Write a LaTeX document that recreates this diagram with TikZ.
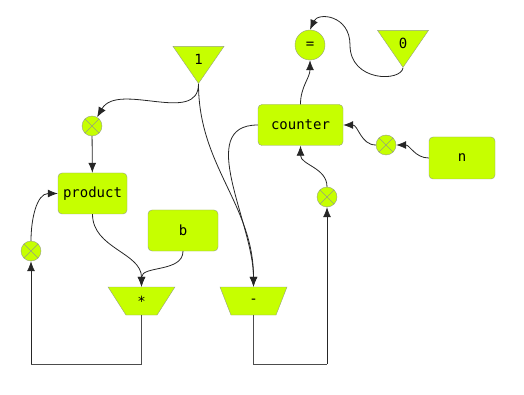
\documentclass[tikz,border=0pt]{standalone}
\usepackage{fontspec}
\setmonofont{DejaVu Sans Mono}
\usetikzlibrary{shapes.geometric,arrows.meta}
\definecolor{blocklime}{RGB}{198,255,0}
\definecolor{blockedge}{RGB}{150,160,130}

\begin{document}
\begin{tikzpicture}[x=1pt,y=1pt,
			every node/.style={draw=blockedge, fill=blocklime, font=\ttfamily\fontsize{14}{16}\selectfont},
			box/.style={rectangle, rounded corners=4pt, minimum height=41},
			const/.style={isosceles triangle, shape border rotate=-90, isosceles triangle stretches, minimum width=51, minimum height=37, inner sep=0},
			op/.style={trapezium, shape border rotate=180, trapezium stretches=true, trapezium left angle=65, trapezium right angle=65, minimum width=67, minimum height=28, inner sep=0},
			cmp/.style={circle, minimum size=30, inner sep=0},
			xc/.style={circle, minimum size=20, inner sep=0, path picture={
				\draw[blockedge] (path picture bounding box.north west) -- (path picture bounding box.south east)
				(path picture bounding box.south west) -- (path picture bounding box.north east);}},
			arrow/.style={-{Latex[length=10pt,width=8pt]}, draw=black!85, line width=0.8pt},
			wire/.style={draw=black!70, line width=0.8pt}
			]
			\useasboundingbox (0,0) rectangle (524,-395);
			
			% Nodes
			\node[const] (one) at (198.5,-59) {1};
			\node[const] (zero) at (403,-43) {0};
			\node[cmp] (eq) at (310,-45) {=};
			\node[box, minimum width=85] (counter) at (300.5,-125) {counter};
			\node[box, minimum width=66, minimum height=42] (n) at (462,-158) {n};
			\node[box, minimum width=69] (product) at (92.5,-193.5) {product};
			\node[box, minimum width=70] (b) at (183,-230.5) {b};
			\node[xc] (x1) at (92,-126) {};
			\node[xc] (x2) at (386,-145) {};
			\node[xc] (x3) at (327,-197) {};
			\node[xc] (x4) at (31,-251) {};
			\node[op] (mul) at (141.5,-301) {*};
			\node[op] (sub) at (253.5,-301) {-};
			\coordinate (loopL) at (31,-364);
			\coordinate (loopR) at (327,-364);
			
			% product loop
			\draw[arrow] (one.apex) to[out=-90, in=60] (x1);
			\draw[arrow] (x1) -- (product);
			\draw[arrow] (product.south) to[out=-90, in=90] (mul.north);
			\draw[arrow] (b.south) to[out=-90, in=90] (mul.north);
			\draw[wire] (mul.south) |- (loopL);
			\draw[arrow] (loopL) -- (x4);
			\draw[arrow] (x4.north) to[out=90, in=180] (product.west);
			
			% counter loop
			\draw[arrow] (one.apex) to[out=-90, in=90] (sub.north);
			\draw[arrow] (counter.west) to[out=180, in=90] (sub.north);
			\draw[wire] (sub.south) |- (loopR);
			\draw[arrow] (loopR) -- (x3);
			\draw[arrow] (x3.north) to[out=90, in=-90] (counter.south);
			\draw[arrow] (n.west) to[out=180, in=0] (x2.east);
			\draw[arrow] (x2.west) to[out=180, in=0] (counter.east);
			
			% Comparison
			\draw[arrow] (counter.north) to[out=90, in=-90] (eq.south);
			\draw[arrow] (zero.apex) .. controls (401,-82) and (350,-82) .. (350,-45)
				.. controls (350,-15) and (318,-12) .. (eq.north);
		\end{tikzpicture}
\end{document}
